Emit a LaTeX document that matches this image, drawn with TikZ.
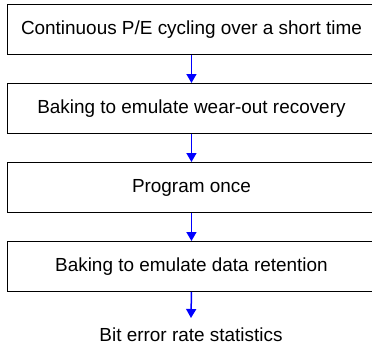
\documentclass[tikz,border=0pt]{standalone}
\usepackage{fontspec}
\setmainfont{Liberation Sans}
\usetikzlibrary{arrows.meta}
\begin{document}
\begin{tikzpicture}[x=1bp,y=-1bp,
  stepbox/.style={draw=black, line width=0.9bp, minimum width=368bp, minimum height=50bp, inner sep=0pt, anchor=north west, font=\fontsize{19}{22}\selectfont},
  flow/.style={draw=blue, line width=1.5bp, -{Triangle[length=9bp,width=10bp]}}]
\useasboundingbox (0,0) rectangle (372,348);
\node[stepbox] (b1) at (7,4) {Continuous P/E cycling over a short time};
\node[stepbox] (b2) at (7,83) {Baking to emulate wear-out recovery};
\node[stepbox] (b3) at (7,162) {Program once};
\node[stepbox] (b4) at (7,241) {Baking to emulate data retention};
\node[font=\fontsize{19}{22}\selectfont, anchor=base, inner sep=0pt] (t) at (191,341) {Bit error rate statistics};
\draw[flow] (b1.south) -- (b2.north);
\draw[flow] (b2.south) -- (b3.north);
\draw[flow] (b3.south) -- (b4.north);
\coordinate (e) at (191,318);
\draw[flow] (b4.south) -- (e);
\end{tikzpicture}
\end{document}
